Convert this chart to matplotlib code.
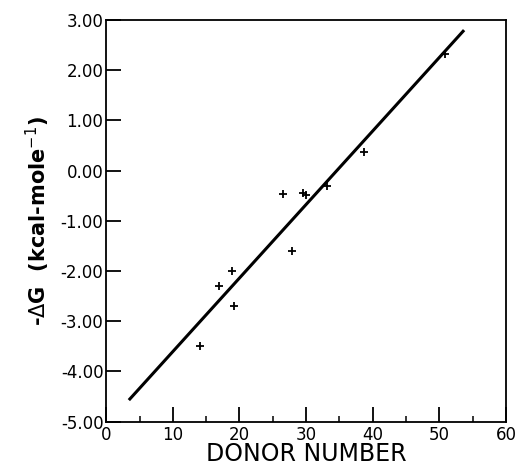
import numpy as np
import matplotlib
matplotlib.use("Agg")
import matplotlib.pyplot as plt
from matplotlib.ticker import MultipleLocator, FormatStrFormatter

plt.rcParams['axes.unicode_minus'] = False

# data
donor_number = [14.1, 16.9, 18.9, 19.2, 27.9, 26.6, 29.6, 30.0, 33.1, 38.7, 50.9]
neg_dG = [-3.50, -2.30, -2.00, -2.70, -1.60, -0.47, -0.45, -0.48, -0.30, 0.38, 2.33]

# fitted line end points
fit_x = [3.4, 53.7]
fit_y = [-4.57, 2.80]

fig = plt.figure(figsize=(5.18, 4.67), dpi=100)
ax = fig.add_axes([0.205, 0.097, 0.772, 0.860])

ax.plot(fit_x, fit_y, color='black', lw=2.2, solid_capstyle='butt')
ax.plot(donor_number, neg_dG, ls='none', marker='+', ms=6, mew=1.3, color='black')

ax.set_xlim(0, 60)
ax.set_ylim(-5, 3)
ax.xaxis.set_major_locator(MultipleLocator(10))
ax.xaxis.set_minor_locator(MultipleLocator(5))
ax.yaxis.set_major_locator(MultipleLocator(1))
ax.yaxis.set_major_formatter(FormatStrFormatter('%.2f'))

ax.tick_params(axis='both', which='major', direction='in', length=11, width=1.3,
               labelsize=12, pad=2)
ax.tick_params(axis='x', which='minor', direction='in', length=4, width=1.1)
ax.tick_params(axis='x', pad=3)
for s in ax.spines.values():
    s.set_linewidth(1.3)

ax.set_xlabel('DONOR NUMBER', fontsize=17, labelpad=-1)
ax.set_ylabel('-$\\Delta$G  (kcal-mole$^{-1}$)', fontsize=15, fontweight='bold', labelpad=6)

fig.savefig('out.png', dpi=100)
